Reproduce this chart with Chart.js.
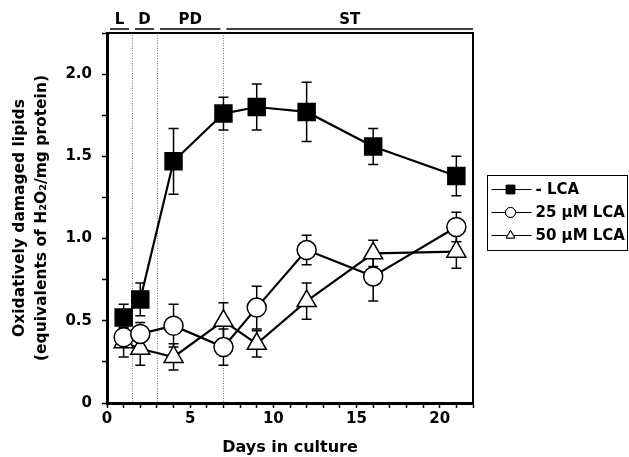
<!DOCTYPE html>
<html>
<head>
<meta charset="utf-8">
<script src="https://cdn.jsdelivr.net/npm/chart.js@4.4.0/dist/chart.umd.min.js"></script>
<style>
  html, body { margin: 0; padding: 0; background: #fff; }
  #wrap { width: 629px; height: 457px; position: relative; }
</style>
</head>
<body>
<div id="wrap"><canvas id="lipidChart" width="629" height="457"></canvas></div>
<script>
// days of sampling and mean values (H2O2 equivalents per mg protein)
const days = [1, 2, 4, 7, 9, 12, 16, 21];
const noLca = [0.52, 0.63, 1.47, 1.76, 1.80, 1.77, 1.56, 1.38];
const noLcaErr = [0.08, 0.10, 0.20, 0.10, 0.14, 0.18, 0.11, 0.12];
const lca25 = [0.40, 0.42, 0.47, 0.34, 0.58, 0.93, 0.77, 1.07];
const lca25Err = [0.05, 0.07, 0.13, 0.11, 0.13, 0.09, 0.15, 0.09];
const lca50 = [0.37, 0.33, 0.28, 0.50, 0.36, 0.62, 0.91, 0.92];
const lca50Err = [0.09, 0.10, 0.08, 0.11, 0.08, 0.11, 0.08, 0.10];

const seriesLabels = ['- LCA', '25 \u00B5M LCA', '50 \u00B5M LCA'];

// growth phases along the top of the plot
const phaseNames = ['L', 'D', 'PD', 'ST'];
const phaseStart = [0, 1.5, 3, 7];
const phaseEnd = [1.5, 3, 7, 22];
const phaseDividers = [1.5, 3, 7];

const FONT = '"DejaVu Sans", Verdana, sans-serif';

function points(ys) {
  return days.map((d, i) => ({ x: d, y: ys[i] }));
}

const errors = [noLcaErr, lca25Err, lca50Err];

const decorations = {
  id: 'decorations',
  beforeDatasetsDraw(chart) {
    const { ctx, chartArea: area, scales: { x, y } } = chart;
    ctx.save();

    // dotted phase dividers
    ctx.strokeStyle = '#777';
    ctx.lineWidth = 1;
    ctx.setLineDash([1, 1.5]);
    phaseDividers.forEach((d) => {
      const px = Math.round(x.getPixelForValue(d)) + 0.5;
      ctx.beginPath();
      ctx.moveTo(px, area.top);
      ctx.lineTo(px, area.bottom);
      ctx.stroke();
    });
    ctx.setLineDash([]);

    // error bars
    ctx.strokeStyle = '#000';
    ctx.lineWidth = 1.5;
    chart.data.datasets.forEach((ds, i) => {
      ds.data.forEach((p, j) => {
        const px = x.getPixelForValue(p.x);
        const top = y.getPixelForValue(p.y + errors[i][j]);
        const bot = y.getPixelForValue(p.y - errors[i][j]);
        ctx.beginPath();
        ctx.moveTo(px, top);
        ctx.lineTo(px, bot);
        ctx.moveTo(px - 5, top);
        ctx.lineTo(px + 5, top);
        ctx.moveTo(px - 5, bot);
        ctx.lineTo(px + 5, bot);
        ctx.stroke();
      });
    });
    ctx.restore();
  },
  afterDraw(chart) {
    const { ctx, chartArea: area, scales: { x } } = chart;
    ctx.save();

    // top and right frame
    ctx.strokeStyle = '#000';
    ctx.lineWidth = 2;
    ctx.beginPath();
    ctx.moveTo(area.left, area.top);
    ctx.lineTo(area.right, area.top);
    ctx.lineTo(area.right, area.bottom);
    ctx.stroke();

    // phase bars and names
    ctx.lineWidth = 1.5;
    ctx.fillStyle = '#000';
    ctx.font = 'bold 15px ' + FONT;
    ctx.textAlign = 'center';
    ctx.textBaseline = 'middle';
    phaseNames.forEach((name, i) => {
      const x0 = x.getPixelForValue(phaseStart[i]) + 3;
      const x1 = x.getPixelForValue(phaseEnd[i]) - (i === phaseNames.length - 1 ? 0 : 3);
      ctx.beginPath();
      ctx.moveTo(x0, area.top - 4);
      ctx.lineTo(x1, area.top - 4);
      ctx.stroke();
      ctx.fillText(name, (x0 + x1) / 2, area.top - 13);
    });

    // y axis title, two lines
    ctx.save();
    ctx.translate(0, (area.top + area.bottom) / 2);
    ctx.rotate(-Math.PI / 2);
    ctx.font = 'bold 15.5px ' + FONT;
    ctx.fillText('Oxidatively damaged lipids', 0, 20);
    ctx.fillText('(equivalents of H\u2082O\u2082/mg protein)', 0, 42);
    ctx.restore();

    // legend box
    const lx = area.right + 14.5;
    const ly = 175.5;
    ctx.lineWidth = 1;
    ctx.strokeRect(lx, ly, 140, 75);
    chart.data.datasets.forEach((ds, i) => {
      const cy = ly + 14 + i * 23;
      ctx.lineWidth = 1;
      ctx.strokeStyle = '#000';
      ctx.beginPath();
      ctx.moveTo(lx + 4, cy);
      ctx.lineTo(lx + 44, cy);
      ctx.stroke();
      Chart.helpers.drawPoint(ctx, {
        pointStyle: ds.pointStyle,
        radius: ds.pointStyle === 'rect' ? 6 : 5,
        borderWidth: 1
      }, lx + 23, cy);
      ctx.fillStyle = ds.pointBackgroundColor;
      ctx.strokeStyle = '#000';
      ctx.fill();
      ctx.stroke();
      ctx.fillStyle = '#000';
      ctx.font = 'bold 15px ' + FONT;
      ctx.textAlign = 'left';
      ctx.fillText(seriesLabels[i], lx + 48, cy + 1);
    });
    ctx.restore();
  }
};

new Chart(document.getElementById('lipidChart'), {
  type: 'line',
  data: {
    datasets: [
      {
        label: seriesLabels[0],
        data: points(noLca),
        pointStyle: 'rect',
        pointRadius: 12,
        pointBackgroundColor: '#000',
        pointBorderColor: '#000',
        pointBorderWidth: 1.5,
        borderColor: '#000',
        borderWidth: 2.2
      },
      {
        label: seriesLabels[1],
        data: points(lca25),
        pointStyle: 'circle',
        pointRadius: 9.5,
        pointBackgroundColor: '#fff',
        pointBorderColor: '#000',
        pointBorderWidth: 1.5,
        borderColor: '#000',
        borderWidth: 2.2
      },
      {
        label: seriesLabels[2],
        data: points(lca50),
        pointStyle: 'triangle',
        pointRadius: 11,
        pointBackgroundColor: '#fff',
        pointBorderColor: '#000',
        pointBorderWidth: 1.5,
        borderColor: '#000',
        borderWidth: 2.2
      }
    ]
  },
  options: {
    responsive: false,
    animation: false,
    layout: { padding: { top: 33, right: 156, left: 0, bottom: 0 } },
    plugins: {
      legend: { display: false },
      tooltip: { enabled: false }
    },
    scales: {
      x: {
        type: 'linear',
        min: 0,
        max: 22,
        afterFit(scale) { scale.height = 54; },
        border: { display: true, color: '#000', width: 3 },
        grid: { drawOnChartArea: false, color: '#000', tickLength: 5, tickWidth: 1.5 },
        ticks: {
          stepSize: 1,
          autoSkip: false,
          maxRotation: 0,
          padding: 2,
          color: '#000',
          font: { family: FONT, size: 15, weight: 'bold' },
          callback: (v) => (v % 5 === 0 ? String(v) : '')
        },
        title: {
          display: true,
          text: 'Days in culture',
          color: '#000',
          padding: { top: 0, bottom: 0 },
          font: { family: FONT, size: 16, weight: 'bold' }
        }
      },
      y: {
        min: 0,
        max: 2.25,
        afterFit(scale) { scale.width = 107; },
        border: { display: true, color: '#000', width: 3 },
        grid: { drawOnChartArea: false, color: '#000', tickLength: 5, tickWidth: 1.5 },
        ticks: {
          stepSize: 0.25,
          autoSkip: false,
          padding: 10,
          color: '#000',
          font: { family: FONT, size: 15, weight: 'bold' },
          callback: (v) => {
            if (v === 0) return '0';
            const half = v * 2;
            return Math.abs(half - Math.round(half)) < 1e-6 ? v.toFixed(1) : '';
          }
        }
      }
    }
  },
  plugins: [decorations]
});
</script>
</body>
</html>
